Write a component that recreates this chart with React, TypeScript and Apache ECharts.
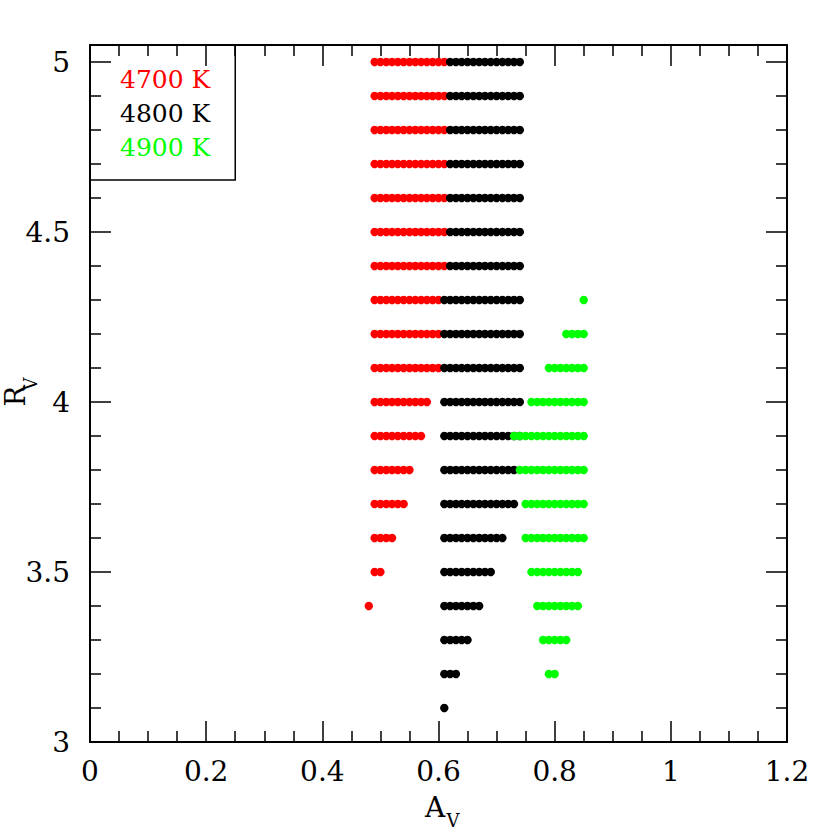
import React, { useEffect, useRef } from "react";
import * as echarts from "echarts";

// Grid rows: [Rv, first Av, last Av] — dots every 0.01 in Av
const AV_STEP = 0.01;
const ROWS_4700: [number, number, number][] = [
  [3.4, 0.48, 0.48],
  [3.5, 0.49, 0.5],
  [3.6, 0.49, 0.52],
  [3.7, 0.49, 0.54],
  [3.8, 0.49, 0.55],
  [3.9, 0.49, 0.57],
  [4.0, 0.49, 0.58],
  [4.1, 0.49, 0.6],
  [4.2, 0.49, 0.6],
  [4.3, 0.49, 0.6],
  [4.4, 0.49, 0.61],
  [4.5, 0.49, 0.61],
  [4.6, 0.49, 0.61],
  [4.7, 0.49, 0.61],
  [4.8, 0.49, 0.61],
  [4.9, 0.49, 0.61],
  [5.0, 0.49, 0.61],
];
const ROWS_4800: [number, number, number][] = [
  [3.1, 0.61, 0.61],
  [3.2, 0.61, 0.63],
  [3.3, 0.61, 0.65],
  [3.4, 0.61, 0.67],
  [3.5, 0.61, 0.69],
  [3.6, 0.61, 0.71],
  [3.7, 0.61, 0.73],
  [3.8, 0.61, 0.73],
  [3.9, 0.61, 0.74],
  [4.0, 0.61, 0.74],
  [4.1, 0.61, 0.74],
  [4.2, 0.61, 0.74],
  [4.3, 0.61, 0.74],
  [4.4, 0.62, 0.74],
  [4.5, 0.62, 0.74],
  [4.6, 0.62, 0.74],
  [4.7, 0.62, 0.74],
  [4.8, 0.62, 0.74],
  [4.9, 0.62, 0.74],
  [5.0, 0.62, 0.74],
];
const ROWS_4900: [number, number, number][] = [
  [3.2, 0.79, 0.8],
  [3.3, 0.78, 0.82],
  [3.4, 0.77, 0.84],
  [3.5, 0.76, 0.84],
  [3.6, 0.75, 0.85],
  [3.7, 0.75, 0.85],
  [3.8, 0.74, 0.85],
  [3.9, 0.73, 0.85],
  [4.0, 0.76, 0.85],
  [4.1, 0.79, 0.85],
  [4.2, 0.82, 0.85],
  [4.3, 0.85, 0.85],
];

const SERIES_NAMES = ["4700 K", "4800 K", "4900 K"];
const SERIES_COLORS = ["#ff0000", "#000000", "#00ff00"];

const X_MAJOR = [0, 0.2, 0.4, 0.6, 0.8, 1, 1.2];
const X_MINOR = [0.05, 0.1, 0.15, 0.25, 0.3, 0.35, 0.45, 0.5, 0.55, 0.65, 0.7, 0.75, 0.85, 0.9, 0.95, 1.05, 1.1, 1.15];
const Y_MAJOR = [3, 3.5, 4, 4.5, 5];
const Y_MINOR = [3.1, 3.2, 3.3, 3.4, 3.6, 3.7, 3.8, 3.9, 4.1, 4.2, 4.3, 4.4, 4.6, 4.7, 4.8, 4.9];

const X_MIN = 0;
const X_MAX = 1.2;
const Y_MIN = 3;
const Y_MAX = 5.05;

function expandRows(rows: [number, number, number][]): number[][] {
  const pts: number[][] = [];
  rows.forEach(([rv, a0, a1]) => {
    const n = Math.round((a1 - a0) / AV_STEP);
    for (let i = 0; i <= n; i++) {
      pts.push([Math.round((a0 + i * AV_STEP) * 100) / 100, rv]);
    }
  });
  return pts;
}

const FONT = "DejaVu Serif";

export default function App() {
  const ref = useRef<HTMLDivElement>(null);
  useEffect(() => {
    document.body.style.margin = "0";
    if (!ref.current) return;
    const chart = echarts.init(ref.current, null, { renderer: "svg" });
    const line = { color: "#000", width: 2 };
    const tickStyle = { color: "#000", width: 1.5 };
    const fmt = (v: number) => String(v);
    const xBase = { type: "value", min: X_MIN, max: X_MAX, splitLine: { show: false } };
    const yBase = { type: "value", min: Y_MIN, max: Y_MAX, splitLine: { show: false } };
    const data = [ROWS_4700, ROWS_4800, ROWS_4900].map(expandRows);
    chart.setOption({
      animation: false,
      backgroundColor: "#fff",
      grid: { left: 90, right: 43, top: 45, bottom: 88, outerBoundsMode: "none" },
      xAxis: [
        {
          ...xBase,
          position: "bottom",
          axisLine: { show: true, onZero: false, lineStyle: line },
          axisTick: { show: true, inside: true, length: 21, customValues: X_MAJOR, lineStyle: tickStyle },
          axisLabel: { show: true, customValues: X_MAJOR, formatter: fmt, margin: 15, fontSize: 28, fontFamily: FONT, color: "#000" },
        },
        {
          ...xBase,
          position: "bottom",
          axisLine: { show: false, onZero: false },
          axisTick: { show: true, inside: true, length: 11, customValues: X_MINOR, lineStyle: tickStyle },
          axisLabel: { show: false },
        },
        {
          ...xBase,
          position: "top",
          axisLine: { show: true, onZero: false, lineStyle: line },
          axisTick: { show: true, inside: true, length: 21, customValues: X_MAJOR, lineStyle: tickStyle },
          axisLabel: { show: false },
        },
        {
          ...xBase,
          position: "top",
          axisLine: { show: false, onZero: false },
          axisTick: { show: true, inside: true, length: 11, customValues: X_MINOR, lineStyle: tickStyle },
          axisLabel: { show: false },
        },
      ],
      yAxis: [
        {
          ...yBase,
          position: "left",
          axisLine: { show: true, onZero: false, lineStyle: line },
          axisTick: { show: true, inside: true, length: 21, customValues: Y_MAJOR, lineStyle: tickStyle },
          axisLabel: { show: true, customValues: Y_MAJOR, formatter: fmt, margin: 20, fontSize: 28, fontFamily: FONT, color: "#000" },
        },
        {
          ...yBase,
          position: "left",
          axisLine: { show: false, onZero: false },
          axisTick: { show: true, inside: true, length: 11, customValues: Y_MINOR, lineStyle: tickStyle },
          axisLabel: { show: false },
        },
        {
          ...yBase,
          position: "right",
          axisLine: { show: true, onZero: false, lineStyle: line },
          axisTick: { show: true, inside: true, length: 21, customValues: Y_MAJOR, lineStyle: tickStyle },
          axisLabel: { show: false },
        },
        {
          ...yBase,
          position: "right",
          axisLine: { show: false, onZero: false },
          axisTick: { show: true, inside: true, length: 11, customValues: Y_MINOR, lineStyle: tickStyle },
          axisLabel: { show: false },
        },
      ],
      legend: {
        show: true,
        left: 90,
        top: 45,
        orient: "vertical",
        icon: "none",
        itemWidth: 0,
        itemHeight: 14,
        itemGap: 0,
        padding: [17, 25, 16, 25],
        borderColor: "#000",
        borderWidth: 1.5,
        selectedMode: false,
        textStyle: { fontFamily: FONT, fontSize: 25, lineHeight: 34 },
        data: SERIES_NAMES.map((n, i) => ({ name: n, textStyle: { color: SERIES_COLORS[i] } })),
      },
      series: data.map((d, i) => ({
        type: "scatter",
        name: SERIES_NAMES[i],
        xAxisIndex: 0,
        yAxisIndex: 0,
        symbol: "circle",
        symbolSize: 8.4,
        itemStyle: { color: SERIES_COLORS[i], opacity: 1 },
        data: d,
      })),
      graphic: [
        { type: "text", x: 435, y: 807, style: { text: "A", fontFamily: FONT, fontSize: 28, fill: "#000", align: "center", verticalAlign: "middle" } },
        { type: "text", x: 453, y: 820, style: { text: "V", fontFamily: FONT, fontSize: 18, fill: "#000", align: "center", verticalAlign: "middle" } },
        {
          type: "group",
          x: 15,
          y: 396,
          rotation: Math.PI / 2,
          children: [
            { type: "text", x: 0, y: 0, style: { text: "R", fontFamily: FONT, fontSize: 28, fill: "#000", align: "center", verticalAlign: "middle" } },
            { type: "text", x: 12, y: 15, style: { text: "V", fontFamily: FONT, fontSize: 18, fill: "#000", align: "center", verticalAlign: "middle" } },
          ],
        },
      ],
    });
    return () => chart.dispose();
  }, []);
  return <div ref={ref} style={{ position: "absolute", left: 0, top: 0, width: 830, height: 830 }} />;
}
